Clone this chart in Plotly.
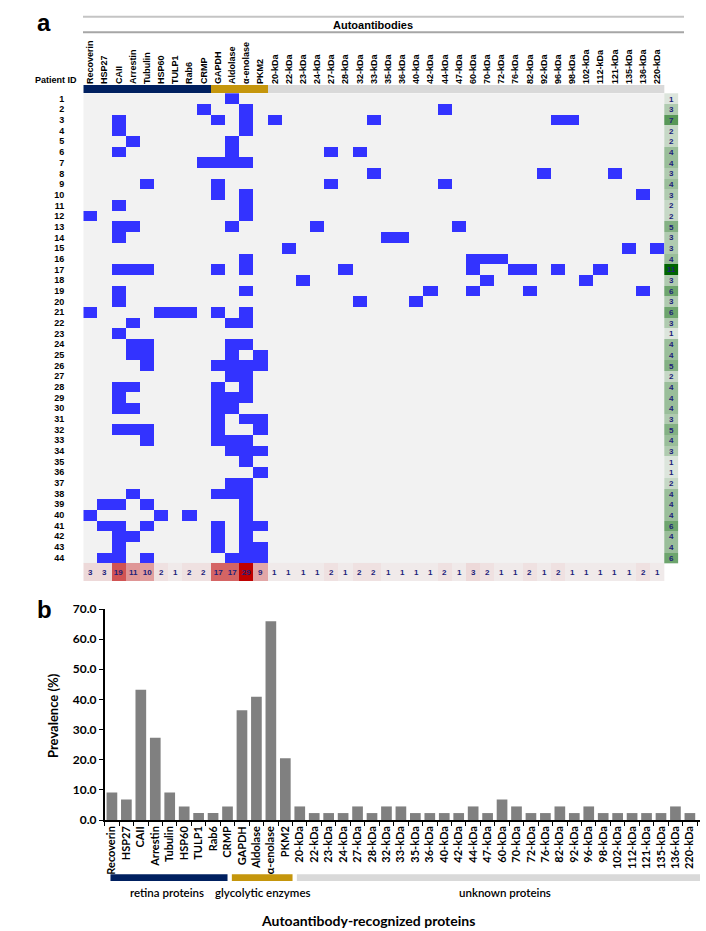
import plotly.graph_objects as go

antigens = ["Recoverin", "HSP27", "CAII", "Arrestin", "Tubulin", "HSP60", "TULP1", "Rab6", "CRMP",
            "GAPDH", "Aldolase", "α-enolase", "PKM2",
            "20-kDa", "22-kDa", "23-kDa", "24-kDa", "27-kDa", "28-kDa", "32-kDa", "33-kDa", "35-kDa",
            "36-kDa", "40-kDa", "42-kDa", "44-kDa", "47-kDa", "60-kDa", "70-kDa", "72-kDa", "76-kDa",
            "82-kDa", "92-kDa", "96-kDa", "98-kDa", "102-kDa", "112-kDa", "121-kDa", "135-kDa",
            "136-kDa", "220-kDa"]
antigen_group = [0] * 9 + [1] * 4 + [2] * 28
group_names = ["retina proteins", "glycolytic enzymes", "unknown proteins"]
group_colors = ["#002060", "#c5960c", "#d9d9d9"]
patient_ids = list(range(1, 45))

# antigens recognised by each patient (patient 1 .. 44)
positives = [
    ["Aldolase"],
    ["CRMP", "α-enolase", "44-kDa"],
    ["CAII", "GAPDH", "α-enolase", "20-kDa", "33-kDa", "96-kDa", "98-kDa"],
    ["CAII", "α-enolase"],
    ["Arrestin", "Aldolase"],
    ["CAII", "Aldolase", "27-kDa", "32-kDa"],
    ["CRMP", "GAPDH", "Aldolase", "α-enolase"],
    ["33-kDa", "92-kDa", "121-kDa"],
    ["Tubulin", "GAPDH", "27-kDa", "44-kDa"],
    ["GAPDH", "α-enolase", "136-kDa"],
    ["CAII", "α-enolase"],
    ["Recoverin", "α-enolase"],
    ["CAII", "Arrestin", "Aldolase", "24-kDa", "47-kDa"],
    ["CAII", "35-kDa", "36-kDa"],
    ["22-kDa", "135-kDa", "220-kDa"],
    ["α-enolase", "60-kDa", "70-kDa", "72-kDa"],
    ["CAII", "Arrestin", "Tubulin", "GAPDH", "α-enolase", "28-kDa", "60-kDa", "76-kDa", "82-kDa",
     "96-kDa", "112-kDa"],
    ["23-kDa", "70-kDa", "102-kDa"],
    ["CAII", "α-enolase", "42-kDa", "60-kDa", "82-kDa", "136-kDa"],
    ["CAII", "32-kDa", "40-kDa"],
    ["Recoverin", "HSP60", "TULP1", "Rab6", "GAPDH", "α-enolase"],
    ["Arrestin", "Aldolase", "α-enolase"],
    ["CAII"],
    ["Arrestin", "Tubulin", "Aldolase", "α-enolase"],
    ["Arrestin", "Tubulin", "Aldolase", "PKM2"],
    ["Tubulin", "GAPDH", "Aldolase", "α-enolase", "PKM2"],
    ["Aldolase", "α-enolase"],
    ["CAII", "Arrestin", "GAPDH", "α-enolase"],
    ["CAII", "GAPDH", "Aldolase", "α-enolase"],
    ["CAII", "Arrestin", "GAPDH", "Aldolase"],
    ["GAPDH", "α-enolase", "PKM2"],
    ["CAII", "Arrestin", "Tubulin", "GAPDH", "PKM2"],
    ["Tubulin", "GAPDH", "Aldolase", "α-enolase"],
    ["Aldolase", "α-enolase", "PKM2"],
    ["α-enolase"],
    ["PKM2"],
    ["Aldolase", "α-enolase"],
    ["Arrestin", "GAPDH", "Aldolase", "α-enolase"],
    ["HSP27", "CAII", "Tubulin", "α-enolase"],
    ["Recoverin", "HSP60", "Rab6", "α-enolase"],
    ["HSP27", "CAII", "Tubulin", "GAPDH", "α-enolase", "PKM2"],
    ["CAII", "Arrestin", "GAPDH", "α-enolase"],
    ["CAII", "GAPDH", "α-enolase", "PKM2"],
    ["HSP27", "CAII", "Tubulin", "Aldolase", "α-enolase", "PKM2"],
]

# prevalence (%)
prevalence = [9.1, 6.8, 43.2, 27.3, 9.1, 4.5, 2.3, 2.3, 4.5, 36.4, 40.9, 65.9, 20.5,
              4.5, 2.3, 2.3, 2.3, 4.5, 2.3, 4.5, 4.5, 2.3, 2.3, 2.3, 2.3, 4.5, 2.3, 6.8,
              4.5, 2.3, 2.3, 4.5, 2.3, 4.5, 2.3, 2.3, 2.3, 2.3, 2.3, 4.5, 2.3]

# ---------------------------------------------------------------- derived tables
matrix = [[1 if a in row else 0 for a in antigens] for row in positives]
patient_totals = [sum(r) for r in matrix]
antigen_totals = [sum(matrix[p][c] for p in range(len(matrix))) for c in range(len(antigens))]

W, H = 706, 931
def px(x):
    return x / W
def py(y):
    return 1 - y / H

ROW = 10.67
TOP = 93.3
hdr_top = 0.5 - (TOP - 85) / ROW
cnt_bot = 44.5 + 18.0 / ROW

NUM_COL = "#20207a"
HFONT = "Liberation Sans"
BFONT = "Lato"

cols_idx = list(range(len(antigens)))

fig = go.Figure()

# main presence matrix
fig.add_trace(go.Heatmap(
    z=matrix, x=cols_idx, y=patient_ids,
    colorscale=[[0, "#f2f2f2"], [1, "#3333ff"]], zmin=0, zmax=1,
    showscale=False, hoverinfo="skip", xaxis="x", yaxis="y"))

# header group bar
fig.add_trace(go.Heatmap(
    z=[antigen_group], x=cols_idx, y=[hdr_top, 0.5],
    colorscale=[[0, group_colors[0]], [0.33, group_colors[0]], [0.34, group_colors[1]],
                [0.66, group_colors[1]], [0.67, group_colors[2]], [1, group_colors[2]]],
    zmin=0, zmax=2, showscale=False, hoverinfo="skip", xaxis="x", yaxis="y"))

# column totals row
fig.add_trace(go.Heatmap(
    z=[antigen_totals], x=cols_idx, y=[44.5, cnt_bot],
    colorscale=[[0, "#f2f2f2"], [1, "#c00000"]], zmin=0, zmax=29,
    showscale=False, hoverinfo="skip",
    texttemplate="<b>%{z}</b>", textfont=dict(family=HFONT, size=8, color=NUM_COL),
    xaxis="x", yaxis="y"))

# patient totals column
fig.add_trace(go.Heatmap(
    z=[[t] for t in patient_totals], x=[40.5, 41.5], y=patient_ids,
    colorscale=[[0, "#f2f2f2"], [1, "#006400"]], zmin=0, zmax=11,
    showscale=False, hoverinfo="skip",
    texttemplate="<b>%{z}</b>", textfont=dict(family=HFONT, size=8, color=NUM_COL),
    xaxis="x", yaxis="y"))

# panel b bars
fig.add_trace(go.Bar(
    x=antigens, y=prevalence, marker=dict(color="#808080", line=dict(width=0)),
    hoverinfo="skip", xaxis="x2", yaxis="y2"))

x0, x1 = 83.3, 83.3 + 42 * 14.17
fig.update_layout(
    width=W, height=H, margin=dict(l=0, r=0, t=0, b=0, autoexpand=False),
    paper_bgcolor="white", plot_bgcolor="white", showlegend=False,
    bargap=0.26,
    xaxis=dict(domain=[px(x0), px(x1)], range=[-0.5, 41.5], side="top",
               tickvals=cols_idx, ticktext=antigens, tickangle=-90,
               tickfont=dict(family=HFONT, size=9, color="black", weight="bold"),
               showgrid=False, zeroline=False, showline=False, ticks="",
               ticklabelstandoff=0, anchor="y", automargin=False),
    yaxis=dict(domain=[py(581), py(85)], range=[cnt_bot, hdr_top],
               tickvals=patient_ids, ticktext=[str(p) for p in patient_ids],
               tickfont=dict(family=HFONT, size=9, color="black", weight="bold"),
               showgrid=False, zeroline=False, showline=False, ticks="",
               ticklabelstandoff=18, anchor="x", automargin=False),
    xaxis2=dict(domain=[px(104.7), px(700)], anchor="y2", type="category",
                tickangle=-90, tickfont=dict(family=BFONT, size=11, color="black", weight="bold"),
                showline=True, linecolor="black", linewidth=1.5,
                ticks="outside", tickson="boundaries", ticklen=4, tickcolor="black",
                showgrid=False, zeroline=False, automargin=False),
    yaxis2=dict(domain=[py(820), py(609)], anchor="x2", range=[0, 70], dtick=10,
                tickformat=".1f", tickfont=dict(family=BFONT, size=12, color="black", weight="bold"),
                showline=True, linecolor="black", linewidth=1.5,
                ticks="outside", ticklen=4, tickcolor="black",
                showgrid=False, zeroline=False, automargin=False),
)

shapes = [
    dict(type="line", xref="paper", yref="paper", x0=px(83), x1=px(684), y0=py(16.7), y1=py(16.7),
         line=dict(color="#c4c4c4", width=2)),
    dict(type="line", xref="paper", yref="paper", x0=px(83), x1=px(684), y0=py(32.3), y1=py(32.3),
         line=dict(color="#a6a6a6", width=2)),
]
group_spans = [(-0.1, 8.0), (8.3, 12.5), (12.8, 40.7)]
for (a, b), c in zip(group_spans, group_colors):
    shapes.append(dict(type="rect", xref="x2", yref="paper", x0=a, x1=b, y0=py(881), y1=py(874.3),
                       line=dict(width=0), fillcolor=c))
fig.update_layout(shapes=shapes)

ann = [
    dict(text="<b>a</b>", x=px(35), y=py(22), xanchor="left", yanchor="middle",
         font=dict(family=HFONT, size=24, color="black")),
    dict(text="<b>b</b>", x=px(35), y=py(609), xanchor="left", yanchor="middle",
         font=dict(family=HFONT, size=24, color="black")),
    dict(text="<b>Autoantibodies</b>", x=px(373), y=py(25), xanchor="center", yanchor="middle",
         font=dict(family=HFONT, size=11, color="black")),
    dict(text="<b>Patient ID</b>", x=px(79), y=py(80), xanchor="right", yanchor="middle",
         font=dict(family=HFONT, size=9, color="black")),
    dict(text="<b>Prevalence (%)</b>", x=px(53), y=py(716), xanchor="center", yanchor="middle",
         textangle=-90, font=dict(family=BFONT, size=13, color="black")),
    dict(text="<b>Autoantibody-recognized proteins</b>", x=px(368), y=py(920), xanchor="center",
         yanchor="middle", font=dict(family=BFONT, size=14, color="black")),
]
for name, cx in zip(group_names, [166.7, 263.3, 505]):
    ann.append(dict(text=name, x=px(cx), y=py(892), xanchor="center", yanchor="middle",
                    font=dict(family=BFONT, size=11.5, color="black", weight=600)))
for a in ann:
    a.update(xref="paper", yref="paper", showarrow=False)
fig.update_layout(annotations=ann)

fig.write_html("out.html", config={"displayModeBar": False},
               post_script="document.body.style.margin='0';document.body.style.overflow='hidden';")
